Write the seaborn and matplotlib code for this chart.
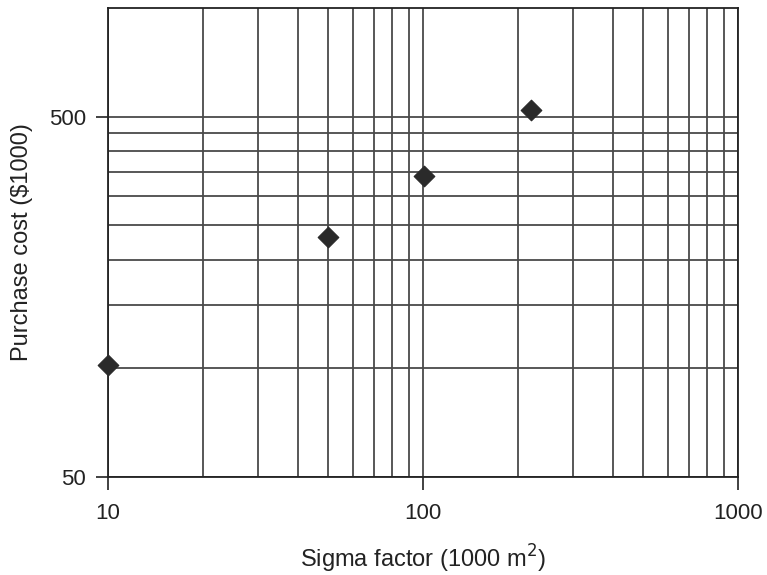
import matplotlib
matplotlib.use('Agg')
import matplotlib.pyplot as plt
import matplotlib.ticker as mticker
import seaborn as sns
import pandas as pd

# Data
sigma_factor = [10, 50, 101, 220]
purchase_cost = [102, 231, 341, 520]

x_major = [10, 100, 1000]
y_major = [50, 500]
x_grid = [20, 30, 40, 50, 60, 70, 80, 90, 200, 300, 400, 500, 600, 700, 800, 900]
y_grid = [100, 150, 200, 250, 300, 350, 400, 450]

df = pd.DataFrame({'sigma': sigma_factor, 'cost': purchase_cost})

sns.set_style('white')
plt.rcParams['font.family'] = ['Liberation Sans', 'DejaVu Sans']

fig = plt.figure(figsize=(7.67, 5.75), dpi=100)
ax = fig.add_axes([0.1408, 0.1704, 0.8214, 0.8157])

ax.set_xscale('log')
ax.set_yscale('log')
ax.set_xlim(10, 1000)
ax.set_ylim(50, 1000)

ax.xaxis.set_major_locator(mticker.FixedLocator(x_major))
ax.yaxis.set_major_locator(mticker.FixedLocator(y_major))
ax.xaxis.set_major_formatter(mticker.FixedFormatter([str(v) for v in x_major]))
ax.yaxis.set_major_formatter(mticker.FixedFormatter([str(v) for v in y_major]))
ax.xaxis.set_minor_locator(mticker.FixedLocator(x_grid))
ax.yaxis.set_minor_locator(mticker.FixedLocator(y_grid))
ax.xaxis.set_minor_formatter(mticker.NullFormatter())
ax.yaxis.set_minor_formatter(mticker.NullFormatter())

# Grid lines
ax.grid(which='both', color='#4a4a4a', linewidth=1.3)

sns.scatterplot(data=df, x='sigma', y='cost', marker='D', s=110, color='#2a2a2a',
                edgecolor='#2a2a2a', ax=ax, zorder=5, clip_on=False)

ax.tick_params(which='major', length=9, width=1.3, color='#333333', labelsize=16,
               labelcolor='#222222', direction='out', bottom=True, left=True, pad=7)
ax.tick_params(axis='x', which='major', pad=10)
ax.tick_params(which='minor', length=0)

for side in ['left', 'bottom', 'top', 'right']:
    ax.spines[side].set_color('#222222')
    ax.spines[side].set_linewidth(1.3)

ax.set_xlabel('Sigma factor (1000 m$^2$)', fontsize=17, color='#222222', labelpad=13)
ax.set_ylabel('Purchase cost ($1000)', fontsize=17, color='#222222', labelpad=11)

fig.savefig('out.png', dpi=100)
